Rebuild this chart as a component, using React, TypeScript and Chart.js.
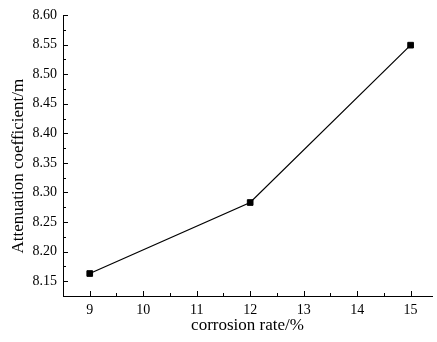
import React, { useEffect, useRef } from 'react';
import { Chart, registerables } from 'chart.js';

Chart.register(...registerables);

const corrosionRate = [9, 12, 15];
const attenuation = [8.163, 8.283, 8.549];
const xRange = [8.5, 15.4];
const yRange = [8.125, 8.6];
const xStep = 1;
const yStep = 0.05;
const xTitle = 'corrosion rate/%';
const yTitle = 'Attenuation coefficient/m';

const innerTicks = {
  id: 'innerTicks',
  afterDatasetsDraw(chart: any) {
    const { ctx, chartArea, scales } = chart;
    ctx.save();
    ctx.strokeStyle = '#000';
    ctx.lineWidth = 1;
    const drawScale = (scale: any, horizontal: boolean) => {
      const vals: number[] = scale.ticks.map((t: any) => t.value);
      if (vals.length < 2) return;
      const step = vals[1] - vals[0];
      const minors: number[] = [];
      for (let i = -1; i < vals.length; i++) {
        const m = vals[0] + (i + 0.5) * step;
        if (m > scale.min + 1e-9 && m < scale.max - 1e-9) minors.push(m);
      }
      const line = (v: number, len: number) => {
        const p = Math.round(scale.getPixelForValue(v)) + 0.5;
        ctx.beginPath();
        if (horizontal) {
          const b = chartArea.bottom;
          ctx.moveTo(p, b);
          ctx.lineTo(p, b - len);
        } else {
          const l = chartArea.left;
          ctx.moveTo(l, p);
          ctx.lineTo(l + len, p);
        }
        ctx.stroke();
      };
      vals.forEach((v) => line(v, 5));
      minors.forEach((v) => line(v, 3));
    };
    drawScale(scales.x, true);
    drawScale(scales.y, false);
    ctx.restore();
  },
};

export default function App() {
  const ref = useRef<HTMLCanvasElement | null>(null);
  useEffect(() => {
    document.body.style.margin = '0';
    if (!ref.current) return;
    const chart = new Chart(ref.current, {
      type: 'line',
      data: {
        datasets: [
          {
            data: corrosionRate.map((x, i) => ({ x, y: attenuation[i] })),
            borderColor: '#000',
            borderWidth: 1.2,
            backgroundColor: '#000',
            pointStyle: 'rect',
            pointRadius: 4,
            pointBorderWidth: 1,
            pointBorderColor: '#000',
            pointBackgroundColor: '#000',
            tension: 0,
          },
        ],
      },
      options: {
        animation: false,
        responsive: false,
        maintainAspectRatio: false,
        layout: { padding: { top: 15, right: 0, left: 0, bottom: 0 } },
        plugins: { legend: { display: false }, tooltip: { enabled: false } },
        scales: {
          x: {
            type: 'linear',
            min: xRange[0],
            max: xRange[1],
            grid: { display: false, drawTicks: false, tickLength: 0 },
            border: { display: true, color: '#000', width: 1 },
            ticks: {
              stepSize: xStep,
              includeBounds: false,
              color: '#000',
              padding: 6,
              font: { family: 'Liberation Serif', size: 14 },
              callback: (v: any) => String(v),
            },
            title: {
              display: true,
              text: xTitle,
              color: '#000',
              font: { family: 'Liberation Serif', size: 17 },
              padding: { top: 0, bottom: 6 },
            },
            afterFit: (s: any) => {
              s.height = 46;
            },
          },
          y: {
            type: 'linear',
            min: yRange[0],
            max: yRange[1],
            grid: { display: false, drawTicks: false, tickLength: 0 },
            border: { display: true, color: '#000', width: 1 },
            ticks: {
              stepSize: yStep,
              includeBounds: false,
              color: '#000',
              padding: 6,
              font: { family: 'Liberation Serif', size: 14 },
              callback: (v: any) => Number(v).toFixed(2),
            },
            title: {
              display: true,
              text: yTitle + '     ',
              color: '#000',
              font: { family: 'Liberation Serif', size: 17 },
              padding: { top: 8, bottom: 0 },
            },
            afterFit: (s: any) => {
              s.width = 63;
            },
          },
        },
      },
      plugins: [innerTicks],
    } as any);
    return () => chart.destroy();
  }, []);
  return <canvas ref={ref} width={437} height={342} style={{ display: 'block' }} />;
}
